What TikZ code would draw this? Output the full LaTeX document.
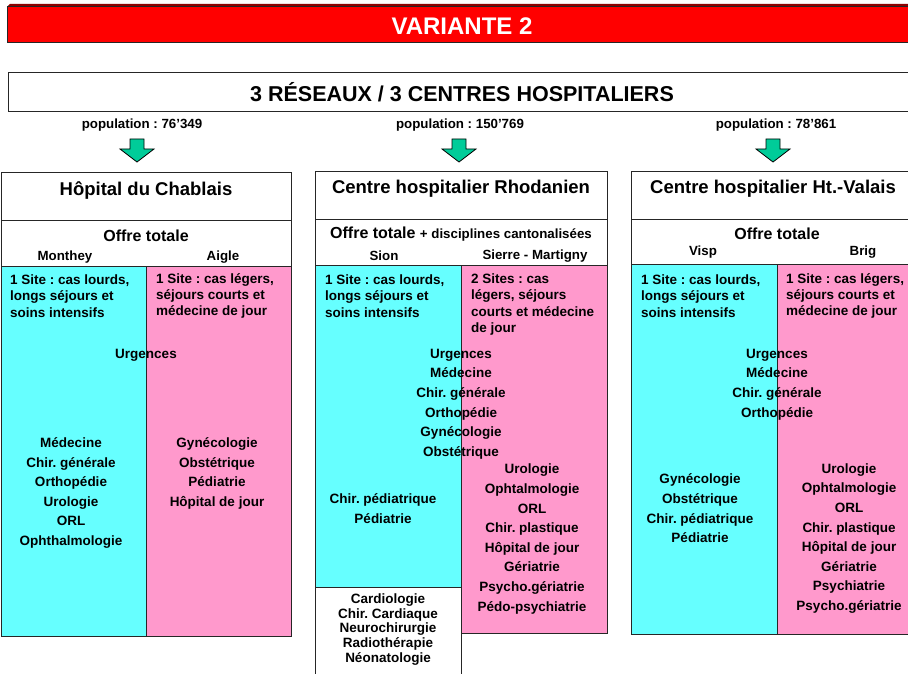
\documentclass[tikz,border=0pt]{standalone}
\usepackage{fontspec}
\setmainfont{Liberation Sans}
\usepackage{tikz}
\usetikzlibrary{positioning}
\frenchspacing
\definecolor{bannerred}{HTML}{FF0000}
\definecolor{heavycyan}{HTML}{66FFFF}
\definecolor{lightpink}{HTML}{FF99CC}
\definecolor{popgreen}{HTML}{00CC99}
\tikzstyle{frame} = [draw=black!85, line width=1pt]
\tikzstyle{banner} = [font=\fontsize{24}{28}\selectfont\bfseries, text=white]
\tikzstyle{network} = [font=\fontsize{21.5}{26}\selectfont\bfseries]
\tikzstyle{pop} = [font=\fontsize{13.3}{15}\selectfont\bfseries]
\tikzstyle{hospital} = [font=\fontsize{18.5}{22}\selectfont\bfseries]
\tikzstyle{offer} = [font=\fontsize{16}{19}\selectfont\bfseries]
\tikzstyle{town} = [font=\fontsize{13.3}{16}\selectfont\bfseries]
\tikzstyle{site} = [font=\fontsize{13.5}{16.4}\selectfont\bfseries, align=left, anchor=west, inner sep=0pt]
\tikzstyle{disc} = [font=\fontsize{13.5}{19.6}\selectfont\bfseries, align=center, inner sep=0pt]
\tikzstyle{arrow} = [fill=popgreen, draw=black, line width=0.8pt]

\begin{document}
\begin{tikzpicture}[x=1pt,y=-1pt]
\useasboundingbox (0,0) rectangle (908,674);
\clip (0,0) rectangle (908,674);

% banners
\fill [bannerred!55!black] (7,7) -- (10,4) -- (912,4) -- (912,7) -- cycle;
\filldraw [frame, fill=bannerred] (7,7) rectangle (912,43);
\node (variante) [banner] at (462,26) {VARIANTE 2};
\filldraw [frame, fill=white] (8,73) rectangle (912,112);
\node (reseaux) [network] at (462,92.5) {3 RÉSEAUX / 3 CENTRES HOSPITALIERS};

\node (popA) [pop] at (142,125) {population : 76’349};
\node (popB) [pop] at (460,125) {population : 150’769};
\node (popC) [pop] at (776,125) {population : 78’861};
\foreach \x in {137,459,773}
  \filldraw [arrow] (\x-7,139) -- (\x+7,139) -- (\x+7,149) -- (\x+17,149)
    -- (\x,162) -- (\x-17,149) -- (\x-7,149) -- cycle;

% Chablais
\draw [frame, fill=white] (1,173) rectangle (291,220);
\draw [frame, fill=white] (1,220) rectangle (291,266);
\filldraw [frame, fill=heavycyan] (1,266) rectangle (146,636);
\filldraw [frame, fill=lightpink] (146,266) rectangle (291,636);
\node (chablais) [hospital] at (146,191) {Hôpital du Chablais};
\node (offreA) [offer] at (146,236) {Offre totale};
\node (monthey) [town] at (65,257) {Monthey};
\node (aigle) [town] at (223,257) {Aigle};
\node (lourdsA) [site] at (10,296) {1 Site : cas lourds,\\longs séjours et\\soins intensifs};
\node (legersA) [site] at (156,296) {1 Site : cas légers,\\séjours courts et\\médecine de jour};
\node (urgA) [disc] at (146,355) {Urgences};
\node (montheyList) [disc] at (71,493) {Médecine\\Chir. générale\\Orthopédie\\Urologie\\ORL\\Ophthalmologie};
\node (aigleList) [disc] at (217,473.5) {Gynécologie\\Obstétrique\\Pédiatrie\\Hôpital de jour};

% Rhodanien
\draw [frame, fill=white] (315,172) rectangle (607,219);
\draw [frame, fill=white] (315,219) rectangle (607,265);
\filldraw [frame, fill=heavycyan] (315,265) rectangle (461,587);
\filldraw [frame, fill=lightpink] (461,265) rectangle (607,633);
\filldraw [frame, fill=white] (315,680) -- (315,587) -- (461,587) -- (461,680);
\node (rhodanien) [hospital] at (461,189) {Centre hospitalier Rhodanien};
\node (offreB) [offer] at (461,234) {Offre totale {\fontsize{13.3}{16}\selectfont + disciplines cantonalisées}};
\node (sion) [town] at (384,256) {Sion};
\node (sierre) [town] at (535,256) {Sierre - Martigny};
\node (lourdsB) [site] at (325,296) {1 Site : cas lourds,\\longs séjours et\\soins intensifs};
\node (legersB) [site] at (471,304.5) {2 Sites : cas\\légers, séjours\\courts et médecine\\de jour};
\node (commonB) [disc] at (461,404) {Urgences\\Médecine\\Chir. générale\\Orthopédie\\Gynécologie\\Obstétrique};
\node (sionList) [disc] at (383,508.5) {Chir. pédiatrique\\Pédiatrie};
\node (sierreList) [disc] at (532,539) {Urologie\\Ophtalmologie\\ORL\\Chir. plastique\\Hôpital de jour\\Gériatrie\\Psycho.gériatrie\\Pédo-psychiatrie};
\node (cantonal) [disc, font=\fontsize{13.5}{14.8}\selectfont\bfseries] at (388,629.5) {Cardiologie\\Chir. Cardiaque\\Neurochirurgie\\Radiothérapie\\Néonatologie};

% Haut-Valais
\draw [frame, fill=white] (631,172) rectangle (912,219);
\draw [frame, fill=white] (631,219) rectangle (912,264);
\filldraw [frame, fill=heavycyan] (631,264) rectangle (777,634);
\filldraw [frame, fill=lightpink] (777,264) rectangle (912,634);
\node (valais) [hospital] at (773,189) {Centre hospitalier Ht.-Valais};
\node (offreC) [offer] at (777,234) {Offre totale};
\node (visp) [town] at (703,252) {Visp};
\node (brig) [town] at (863,252) {Brig};
\node (lourdsC) [site] at (641,296) {1 Site : cas lourds,\\longs séjours et\\soins intensifs};
\node (legersC) [site] at (786,296) {1 Site : cas légers,\\séjours courts et\\médecine de jour};
\node (commonC) [disc] at (777,384.5) {Urgences\\Médecine\\Chir. générale\\Orthopédie};
\node (vispList) [disc] at (700,508.5) {Gynécologie\\Obstétrique\\Chir. pédiatrique\\Pédiatrie};
\node (brigList) [disc] at (849,538.5) {Urologie\\Ophtalmologie\\ORL\\Chir. plastique\\Hôpital de jour\\Gériatrie\\Psychiatrie\\Psycho.gériatrie};
\end{tikzpicture}
\end{document}
